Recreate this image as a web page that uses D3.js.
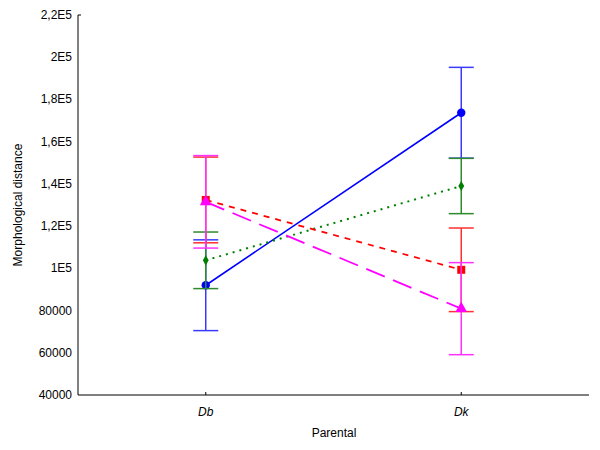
<!DOCTYPE html>
<html>
<head>
<meta charset="utf-8">
<title>Morphological distance</title>
<script src="https://cdnjs.cloudflare.com/ajax/libs/d3/7.8.5/d3.min.js"></script>
<style>
  body { margin: 0; background: #fff; }
  text { font-family: "Liberation Sans", Arial, sans-serif; fill: #000; }
</style>
</head>
<body>
<script>
// data
let categories = ['Db', 'Dk'];
let blueMean = [92000, 173700],  blueErr = [21500, 21500];
let greenMean = [103800, 139000], greenErr = [13400, 13100];
let redMean = [132400, 99300],   redErr = [20300, 19800];
let pinkMean = [131500, 80900],  pinkErr = [21900, 21800];
let yTicks = [40000, 60000, 80000, 100000, 120000, 140000, 160000, 180000, 200000, 220000];
let yTickLabels = ['40000', '60000', '80000', '1E5', '1,2E5', '1,4E5', '1,6E5', '1,8E5', '2E5', '2,2E5'];

let width = 600, height = 450;
let padL = 78, padR = 589, padT = 15, padB = 395;

let series = [
  { mean: blueMean, err: blueErr, color: '#0000ff', bar: '#3a3aff', dash: null, marker: 'circle', w: 1.6 },
  { mean: greenMean, err: greenErr, color: '#008000', bar: '#2e8b2e', dash: '2,5', marker: 'diamond', w: 2 },
  { mean: redMean, err: redErr, color: '#ff0000', bar: '#ff3030', dash: '6,6', marker: 'square', w: 1.8 },
  { mean: pinkMean, err: pinkErr, color: '#ff00ff', bar: '#ff30ff', dash: '20,9', marker: 'triangle', w: 1.8 }
];

let svg = d3.select('body').append('svg')
  .attr('width', width)
  .attr('height', height);

let xScale = d3.scalePoint()
  .domain(categories)
  .range([padL, padR])
  .padding(0.5);

let yScale = d3.scaleLinear()
  .domain([40000, 220000])
  .range([padB, padT]);

// axes
svg.append('line')
  .attr('x1', padL).attr('x2', padL)
  .attr('y1', padT).attr('y2', padB)
  .attr('stroke', '#000').attr('stroke-width', 1);
svg.append('line')
  .attr('x1', padL).attr('x2', padL + 3)
  .attr('y1', padT).attr('y2', padT)
  .attr('stroke', '#000');
svg.append('line')
  .attr('x1', padL).attr('x2', padR)
  .attr('y1', padB).attr('y2', padB)
  .attr('stroke', '#000').attr('stroke-width', 1);

svg.selectAll('.xtick')
  .data(categories)
  .enter()
  .append('line')
  .attr('x1', d => xScale(d)).attr('x2', d => xScale(d))
  .attr('y1', padB - 3).attr('y2', padB)
  .attr('stroke', '#000');

svg.selectAll('.xlab')
  .data(categories)
  .enter()
  .append('text')
  .text(d => d)
  .attr('x', d => xScale(d))
  .attr('y', padB + 21)
  .attr('text-anchor', 'middle')
  .attr('font-style', 'italic')
  .attr('font-size', 12);

svg.selectAll('.ylab')
  .data(yTicks)
  .enter()
  .append('text')
  .text((d, i) => yTickLabels[i])
  .attr('x', padL - 6)
  .attr('y', d => yScale(d) + 4)
  .attr('text-anchor', 'end')
  .attr('font-size', 12);

svg.append('text')
  .text('Parental')
  .attr('x', 334)
  .attr('y', 437)
  .attr('text-anchor', 'middle')
  .attr('font-size', 12);

svg.append('text')
  .text('Morphological distance')
  .attr('transform', 'translate(22,' + (padT + padB) / 2 + ') rotate(-90)')
  .attr('text-anchor', 'middle')
  .attr('font-size', 12);

let capHalf = 12.5;

series.forEach(s => {
  let g = svg.append('g');
  // error bars
  categories.forEach((c, i) => {
    let x = xScale(c);
    let hi = yScale(s.mean[i] + s.err[i]), lo = yScale(s.mean[i] - s.err[i]);
    g.append('line').attr('x1', x).attr('x2', x).attr('y1', hi).attr('y2', lo)
      .attr('stroke', s.bar).attr('stroke-width', 1.5);
    [hi, lo].forEach(y => {
      g.append('line').attr('x1', x - capHalf).attr('x2', x + capHalf)
        .attr('y1', y).attr('y2', y)
        .attr('stroke', s.bar).attr('stroke-width', 1.5);
    });
  });
  // connecting line
  let line = d3.line()
    .x((d, i) => xScale(categories[i]))
    .y(d => yScale(d));
  g.append('path')
    .attr('d', line(s.mean))
    .attr('fill', 'none')
    .attr('stroke', s.color)
    .attr('stroke-width', s.w)
    .attr('stroke-dasharray', s.dash);
  // markers
  let sym = {
    circle: d3.symbol().type(d3.symbolCircle).size(55),
    diamond: d3.symbol().type(d3.symbolDiamond).size(30),
    square: d3.symbol().type(d3.symbolSquare).size(64),
    triangle: d3.symbol().type(d3.symbolTriangle).size(60)
  }[s.marker];
  g.selectAll('.pt')
    .data(s.mean)
    .enter()
    .append('path')
    .attr('d', sym)
    .attr('transform', (d, i) => 'translate(' + xScale(categories[i]) + ',' + yScale(d) + ')')
    .attr('fill', s.color);
});
</script>
</body>
</html>
